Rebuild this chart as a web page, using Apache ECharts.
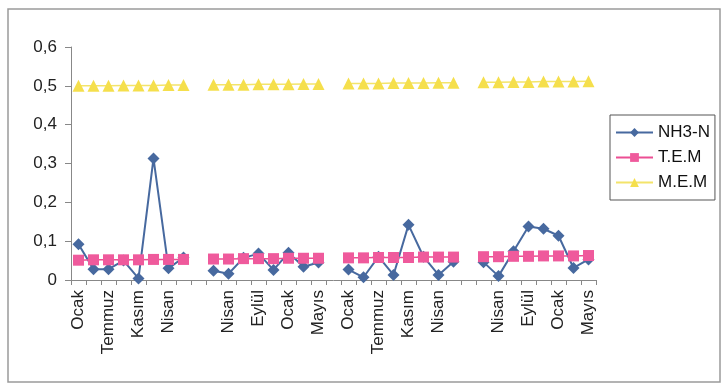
<!DOCTYPE html>
<html>
<head>
<meta charset="utf-8">
<script src="https://cdn.jsdelivr.net/npm/echarts@6/dist/echarts.min.js"></script>
<style>
  html, body { margin: 0; padding: 0; background: #fff; }
  #chart { width: 723px; height: 384px; }
</style>
</head>
<body>
<div id="chart"></div>
<script>
// Sampling months, four campaigns separated by an empty slot; only every other month is labelled
const categories = [
  'Ocak', '', 'Temmuz', '', 'Kasım', '', 'Nisan', '',
  '',
  '', 'Nisan', '', 'Eylül', '', 'Ocak', '', 'Mayıs',
  '',
  'Ocak', '', 'Temmuz', '', 'Kasım', '', 'Nisan', '',
  '',
  '', 'Nisan', '', 'Eylül', '', 'Ocak', '', 'Mayıs'
];

// Measured ammonium nitrogen
const nh3n = [
  0.092, 0.028, 0.028, 0.050, 0.004, 0.313, 0.030, 0.058,
  null,
  0.024, 0.016, 0.057, 0.068, 0.026, 0.070, 0.034, 0.045,
  null,
  0.027, 0.007, 0.060, 0.013, 0.142, 0.060, 0.013, 0.047,
  null,
  0.046, 0.010, 0.074, 0.138, 0.132, 0.114, 0.031, 0.053
];

// T.E.M limit
const tem = [
  0.051, 0.052, 0.052, 0.052, 0.052, 0.053, 0.053, 0.053,
  null,
  0.054, 0.054, 0.055, 0.055, 0.055, 0.056, 0.056, 0.056,
  null,
  0.057, 0.057, 0.058, 0.058, 0.058, 0.059, 0.059, 0.059,
  null,
  0.060, 0.060, 0.061, 0.061, 0.062, 0.062, 0.062, 0.063
];

// M.E.M limit
const mem = [
  0.500, 0.500, 0.500, 0.501, 0.501, 0.501, 0.502, 0.502,
  null,
  0.503, 0.503, 0.503, 0.504, 0.504, 0.504, 0.505, 0.505,
  null,
  0.506, 0.506, 0.506, 0.507, 0.507, 0.507, 0.508, 0.508,
  null,
  0.509, 0.509, 0.510, 0.510, 0.511, 0.511, 0.511, 0.512
];

const yTicks = { min: 0, max: 0.6, step: 0.1 };

const FONT = 'Liberation Sans, Arial, sans-serif';
const chart = echarts.init(document.getElementById('chart'), null, { renderer: 'canvas' });

chart.setOption({
  backgroundColor: '#ffffff',
  animation: false,
  graphic: [{
    type: 'rect',
    shape: { x: 8, y: 9, width: 712, height: 373 },
    style: { fill: 'none', stroke: '#9a9a9a', lineWidth: 1.5 },
    silent: true,
    z: -1
  }],
  grid: { left: 71, right: 127, top: 47, bottom: 104, containLabel: false },
  legend: {
    orient: 'vertical',
    left: 610,
    top: 115,
    padding: [9, 5, 9, 5],
    itemWidth: 37,
    itemHeight: 11,
    itemGap: 8,
    borderColor: '#555',
    borderWidth: 1,
    textStyle: { fontFamily: FONT, fontSize: 17, color: '#111' },
    data: ['NH3-N', 'T.E.M', 'M.E.M']
  },
  xAxis: {
    type: 'category',
    data: categories,
    boundaryGap: true,
    axisLine: { lineStyle: { color: '#888', width: 1 } },
    axisTick: { show: true, interval: 0, length: 5, lineStyle: { color: '#888' } },
    axisLabel: {
      interval: 1,
      rotate: 90,
      margin: 10,
      fontFamily: FONT,
      fontSize: 17,
      color: '#222'
    },
    splitLine: { show: false }
  },
  yAxis: {
    type: 'value',
    min: yTicks.min,
    max: yTicks.max,
    interval: yTicks.step,
    axisLine: { show: true, lineStyle: { color: '#888', width: 1 } },
    axisTick: { show: true, length: 6, lineStyle: { color: '#888' } },
    axisLabel: {
      margin: 14,
      fontFamily: FONT,
      fontSize: 17,
      color: '#222',
      formatter: v => (v === 0 ? '0' : v.toFixed(1).replace('.', ','))
    },
    splitLine: { show: false }
  },
  series: [
    {
      name: 'NH3-N',
      type: 'line',
      data: nh3n,
      connectNulls: false,
      showAllSymbol: true,
      symbol: 'diamond',
      symbolSize: 12,
      lineStyle: { color: '#47699f', width: 2 },
      itemStyle: { color: '#47699f' },
      z: 2
    },
    {
      name: 'T.E.M',
      type: 'line',
      data: tem,
      connectNulls: false,
      showAllSymbol: true,
      symbol: 'rect',
      symbolSize: 11,
      lineStyle: { color: '#ec4f93', width: 1.5 },
      itemStyle: { color: '#ef5a9c' },
      z: 3
    },
    {
      name: 'M.E.M',
      type: 'line',
      data: mem,
      connectNulls: false,
      showAllSymbol: true,
      symbol: 'triangle',
      symbolSize: 12,
      lineStyle: { color: '#f3e46a', width: 1.5 },
      itemStyle: { color: '#f5df4c' },
      z: 4
    }
  ]
});
</script>
</body>
</html>
